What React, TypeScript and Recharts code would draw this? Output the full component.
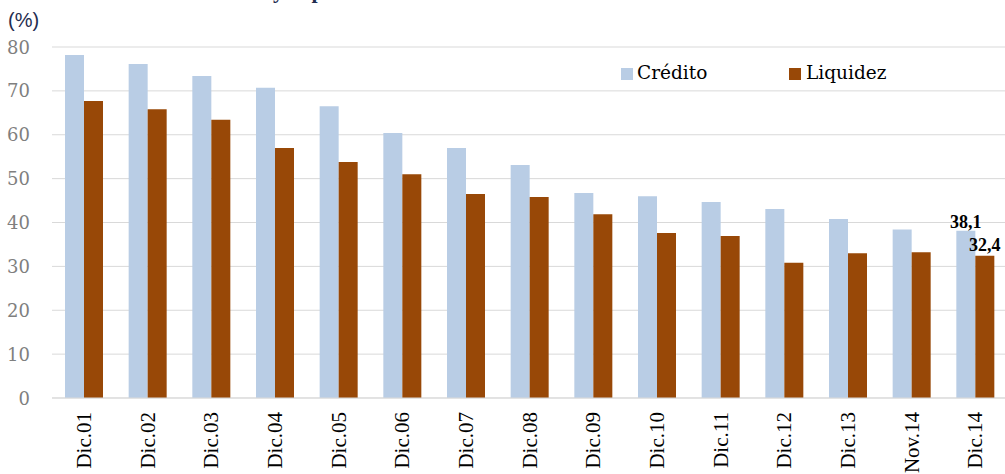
import React from 'react';
import { BarChart, Bar, XAxis, YAxis, CartesianGrid, Legend, LabelList } from 'recharts';

const categories = ['Dic.01','Dic.02','Dic.03','Dic.04','Dic.05','Dic.06','Dic.07','Dic.08','Dic.09','Dic.10','Dic.11','Dic.12','Dic.13','Nov.14','Dic.14'];
const credito = [78.2, 76.1, 73.4, 70.7, 66.5, 60.4, 57.0, 53.1, 46.7, 46.0, 44.7, 43.1, 40.8, 38.4, 38.1];
const liquidez = [67.7, 65.8, 63.4, 57.0, 53.8, 51.0, 46.5, 45.8, 41.9, 37.6, 36.9, 30.8, 33.0, 33.2, 32.4];
const labeledIndex = 14;
const yTicks = [0, 10, 20, 30, 40, 50, 60, 70, 80];

const data = categories.map((c, i) => ({
  name: c,
  credito: credito[i],
  liquidez: liquidez[i],
  lblC: i === labeledIndex ? credito[i] : undefined,
  lblL: i === labeledIndex ? liquidez[i] : undefined,
}));

const BLUE = '#B9CDE5';
const BROWN = '#984807';
const SERIF = '"Liberation Serif", serif';
const CAMBRIA = '"DejaVu Serif", serif';

const XTick = (props: any) => {
  const { x, y, payload } = props;
  return (
    <text x={0} y={0} transform={`translate(${x + 7},${y + 6}) rotate(-90)`} textAnchor="end"
      fontFamily={SERIF} fontSize={21} fill="#000">
      {payload.value}
    </text>
  );
};

const YTick = (props: any) => {
  const { x, y, payload } = props;
  return (
    <text x={x} y={y} dy={6.5} textAnchor="end" fontFamily={CAMBRIA} fontSize={18} fill="#7F7F7F">
      {payload.value}
    </text>
  );
};

const fmt = (v: any) => (v == null ? '' : String(v).replace('.', ','));

const LegendContent = () => (
  <div style={{ position: 'relative', width: 1005, height: 0, fontFamily: CAMBRIA, fontSize: 18.5, color: '#000' }}>
    <div style={{ position: 'absolute', left: 621, top: 68, width: 12, height: 12, background: BLUE }} />
    <div style={{ position: 'absolute', left: 637, top: 61, lineHeight: '24px', whiteSpace: 'nowrap' }}>Crédito</div>
    <div style={{ position: 'absolute', left: 789, top: 68, width: 12, height: 12, background: BROWN }} />
    <div style={{ position: 'absolute', left: 806, top: 61, lineHeight: '24px', whiteSpace: 'nowrap' }}>Liquidez</div>
  </div>
);

export default function App() {
  return (
    <div style={{ position: 'absolute', left: 0, top: 0, width: 1005, height: 474, background: '#fff', overflow: 'hidden' }}>
      <svg style={{ position: 'absolute', left: 0, top: 0 }} width={1005} height={40}>
        <text x={273} y={-2.5} textAnchor="end" fontFamily={SERIF} fontWeight="bold" fontSize={22} fill="#1F2D4F">Dolarización del crédito </text>
        <text x={273} y={-2.5} textAnchor="start" fontFamily={SERIF} fontWeight="bold" fontSize={22} fill="#1F2D4F">y depósitos</text>
        <text x={8} y={27} fontFamily='"Liberation Sans Narrow", "Liberation Sans", sans-serif' fontSize={20} fill="#1F2D4F">(%)</text>
      </svg>
      <BarChart width={1005} height={474} data={data} margin={{ top: 47, right: -2, bottom: 0, left: 0 }} barGap={0}>
        <CartesianGrid vertical={false} stroke="#D9D9D9" />
        <XAxis dataKey="name" height={76} tickLine={false} axisLine={{ stroke: '#D9D9D9' }} tick={<XTick />} interval={0} />
        <YAxis width={52} domain={[0, 80]} ticks={yTicks} tickLine={false} axisLine={false} tickSize={0} tickMargin={22}
          tick={<YTick />} />
        <Legend verticalAlign="middle" layout="horizontal" content={<LegendContent />}
          wrapperStyle={{ position: 'absolute', left: 0, top: 0, width: 1005, height: 0 }} />
        <Bar dataKey="credito" name="Crédito" fill={BLUE} barSize={19} isAnimationActive={false}>
          <LabelList dataKey="lblC" position="top" offset={3} formatter={fmt}
            style={{ fontFamily: SERIF, fontWeight: 'bold', fontSize: 18, fill: '#000' }} />
        </Bar>
        <Bar dataKey="liquidez" name="Liquidez" fill={BROWN} barSize={19} isAnimationActive={false}>
          <LabelList dataKey="lblL" position="top" offset={5} formatter={fmt}
            style={{ fontFamily: SERIF, fontWeight: 'bold', fontSize: 18, fill: '#000' }} />
        </Bar>
      </BarChart>
    </div>
  );
}
